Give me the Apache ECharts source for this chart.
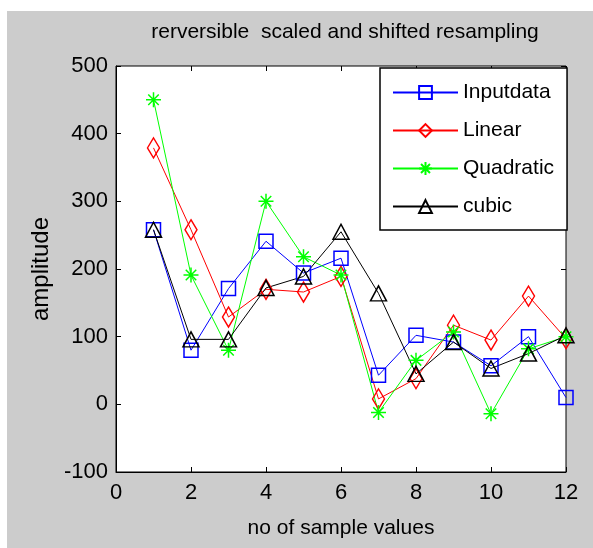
<!DOCTYPE html>
<html>
<head>
<meta charset="utf-8">
<script src="https://cdn.jsdelivr.net/npm/echarts@6/dist/echarts.min.js"></script>
<style>
html,body{margin:0;padding:0;background:#ffffff;}
#wrap{position:relative;width:593px;height:548px;background:#ffffff;}
#bg{position:absolute;left:7px;top:11px;width:586px;height:537px;background:#cccccc;}
#chart{position:absolute;left:0;top:0;width:593px;height:548px;}
</style>
</head>
<body>
<div id="wrap"><div id="bg"></div><div id="chart"></div></div>
<script>
var titleText = 'rerversible  scaled and shifted resampling';
var xName = 'no of sample values';
var yName = 'amplitude';
var seriesNames = ['Inputdata', 'Linear', 'Quadratic', 'cubic'];
var xs = [1, 2, 3, 4, 5, 6, 7, 8, 9, 10, 11, 12];
var inputdata = [258, 80, 171, 241, 194, 216, 43, 102, 92, 57, 100, 10];
var linear = [379, 258, 129, 170, 166, 189, 8, 38, 117, 95, 160, 97];
var quadratic = [450, 191, 80, 300, 218, 191, -12, 65, 107, -14, 82, 100];
var cubic = [258, 96, 96, 172, 189, 255, 164, 45, 92, 53, 75, 102];

var FONT = '"Liberation Sans", Arial, sans-serif';
function pairs(ys) { return xs.map(function (x, i) { return [x, ys[i]]; }); }

var starPath = 'path://M5,0L5,10M0,5L10,5M1.5,1.5L8.5,8.5M1.5,8.5L8.5,1.5';

function mk(name, ys, color, symbol, size) {
  return {
    name: name, type: 'line', data: pairs(ys),
    symbol: symbol, symbolSize: size, showAllSymbol: true,
    lineStyle: { color: color, width: 1 },
    itemStyle: { color: 'rgba(0,0,0,0)', borderColor: color, borderWidth: 1.5 },
    emphasis: { disabled: true },
    animation: false
  };
}

var chart = echarts.init(document.getElementById('chart'), null, { renderer: 'canvas' });
var tickStyle = { show: true, inside: true, length: 5, lineStyle: { color: '#000', width: 1 } };
chart.setOption({
  backgroundColor: 'transparent',
  animation: false,
  title: {
    text: titleText, left: 340, top: 17, textAlign: 'center',
    textStyle: { fontFamily: FONT, fontSize: 21, fontWeight: 'normal', color: '#000' }
  },
  grid: {
    left: 116, top: 66, right: 27, bottom: 76, containLabel: false, outerBoundsMode: 'none',
    show: true, backgroundColor: '#ffffff', borderColor: '#000', borderWidth: 1
  },
  legend: {
    orient: 'vertical', left: 380, top: 68,
    data: seriesNames,
    backgroundColor: '#ffffff', borderColor: '#000', borderWidth: 1.5, borderRadius: 0,
    padding: [14, 13, 13, 12],
    itemWidth: 65, itemHeight: 16, itemGap: 17,
    textStyle: { fontFamily: FONT, fontSize: 21, color: '#000' }
  },
  xAxis: [{
    type: 'value', min: 0, max: 12, interval: 2,
    name: xName, nameLocation: 'middle', nameGap: 46,
    nameTextStyle: { fontFamily: FONT, fontSize: 21, color: '#000' },
    axisLine: { show: true, onZero: false, lineStyle: { color: '#000', width: 1 } },
    axisTick: tickStyle,
    axisLabel: { fontFamily: FONT, fontSize: 22, color: '#000', margin: 10 },
    splitLine: { show: false }
  }, {
    type: 'value', min: 0, max: 12, interval: 2, position: 'top',
    axisLine: { show: false, onZero: false }, axisTick: tickStyle, axisLabel: { show: false }, splitLine: { show: false }
  }],
  yAxis: [{
    type: 'value', min: -100, max: 500, interval: 100,
    name: yName, nameLocation: 'middle', nameGap: 53, nameRotate: 90,
    nameTextStyle: { fontFamily: FONT, fontSize: 24, color: '#000' },
    axisLine: { show: true, onZero: false, lineStyle: { color: '#000', width: 1 } },
    axisTick: tickStyle,
    axisLabel: { fontFamily: FONT, fontSize: 22, color: '#000', margin: 8 },
    splitLine: { show: false }
  }, {
    type: 'value', min: -100, max: 500, interval: 100, position: 'right',
    axisLine: { show: false, onZero: false }, axisTick: tickStyle, axisLabel: { show: false }, splitLine: { show: false }
  }],
  series: [
    mk(seriesNames[0], inputdata, '#0000ff', 'rect', 14),
    mk(seriesNames[1], linear, '#ff0000', 'diamond', [12, 20]),
    mk(seriesNames[2], quadratic, '#00ff00', starPath, 15),
    mk(seriesNames[3], cubic, '#000000', 'triangle', [16, 15])
  ]
});
</script>
</body>
</html>
